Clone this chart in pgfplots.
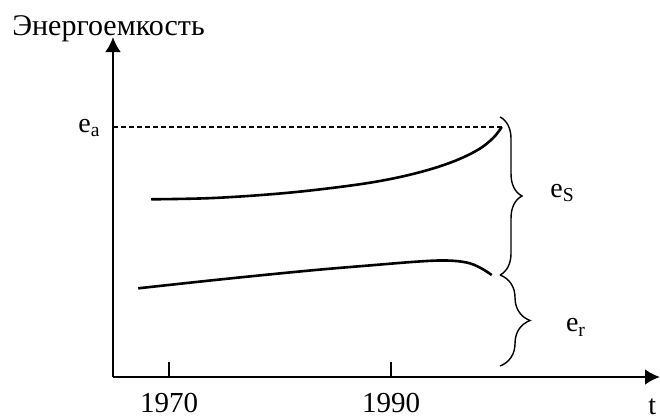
\documentclass[border=0pt]{standalone}
\usepackage{fontspec}
\setmainfont{Liberation Serif}
\usepackage{pgfplots}
\pgfplotsset{compat=1.18}
\usetikzlibrary{arrows.meta,decorations.pathreplacing}
\begin{document}
\fontsize{14pt}{16pt}\selectfont
\begin{tikzpicture}
\useasboundingbox (-56.5pt,-21pt) rectangle (273.5pt,188.5pt);
\begin{axis}[
  at={(0,0)}, anchor=south west,
  scale only axis, width=273.5pt, height=170pt,
  xmin=1964.955, xmax=2014.23, ymin=0, ymax=340,
  axis lines=left,
  axis line style={line width=1.4pt, -{Latex[length=7.5pt,width=8pt]}},
  xtick={1970,1990}, xticklabels={\textrm{1970},\textrm{1990}},
  ytick=\empty,
  xtick align=inside, major tick length=7.5pt,
  every tick/.style={black, line width=0.6pt},
  xticklabel style={font=\fontsize{14.5pt}{16pt}\selectfont, anchor=base, yshift=-17.5pt},
  clip=false,
]
\addplot[black, line width=0.6pt, dash pattern=on 2.5pt off 1.5pt] coordinates {(1964.955,250) (2000,250)};
\addplot[black, line width=1.3pt, smooth, tension=0.6] coordinates {
  (1968.4,177.7) (1974,179) (1980,183.5) (1985,189.5) (1989,196)
  (1992.5,204.5) (1995.5,215) (1997.8,227) (1999.2,239) (1999.97,250)};
\addplot[black, line width=1.3pt, smooth, tension=0.6] coordinates {
  (1967.23,88.7) (1975,98) (1982.7,106.5) (1988,111.5) (1992.5,115.5) (1995,116.5)
  (1996.8,114.5) (1998,109.5) (1999.07,102)};
\draw[line width=0.7pt, decorate, decoration={brace, amplitude=11pt}]
  (axis cs:1999.82,260) -- (axis cs:1999.82,102);
\draw[line width=0.7pt, decorate, decoration={brace, amplitude=15pt}]
  (axis cs:1999.82,102) -- (axis cs:1999.82,11);
\end{axis}
\node[anchor=base west, inner sep=0pt, font=\fontsize{15pt}{17pt}\selectfont] at (-50.5pt,171pt) {Энергоемкость};
\node[anchor=base west, inner sep=0pt] at (-17.5pt,122.5pt) {e\textsubscript{a}};
\node[anchor=base west, inner sep=0pt] at (218.5pt,90pt) {e\textsubscript{S}};
\node[anchor=base west, inner sep=0pt] at (226.3pt,22.6pt) {e\textsubscript{r}};
\node[anchor=base west, inner sep=0pt] at (267.5pt,-18.8pt) {t};
\end{tikzpicture}
\end{document}
